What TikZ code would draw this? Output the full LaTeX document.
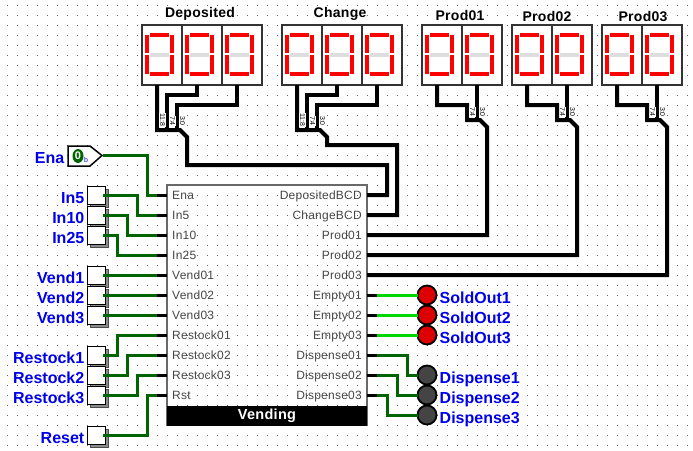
\documentclass[tikz,border=0pt]{standalone}
\usepackage{fontspec}
\setmainfont{Liberation Sans}
\newfontfamily\spaced[LetterSpace=2]{Liberation Sans}
\usetikzlibrary{positioning,calc,shapes.geometric}
\definecolor{wiregreen}{RGB}{0,100,0}
\definecolor{litgreen}{RGB}{0,215,0}
\definecolor{inkblue}{RGB}{0,0,235}
\definecolor{ledred}{RGB}{222,0,0}
\definecolor{leddark}{RGB}{68,68,68}
\definecolor{chipgray}{RGB}{105,105,105}
\definecolor{chiptext}{RGB}{70,70,70}
\tikzset{
  x=1pt, y=-1pt,
  griddot/.style={fill=black!60},
  wire/.style={draw=wiregreen, line width=3pt},
  litwire/.style={draw=litgreen, line width=3pt},
  bus/.style={draw=black, line width=4pt},
  stub/.style={draw=black, line width=3pt},
  chipbox/.style={draw=chipgray, line width=2pt, minimum width=200pt, minimum height=240pt, inner sep=0pt, outer sep=0pt},
  titlebar/.style={fill=black, text=white, minimum width=200pt, minimum height=20pt, inner sep=0pt, outer sep=0pt, font=\spaced\bfseries\fontsize{14.5}{15}\selectfont},
  chiptag/.style={text=chiptext, inner sep=0pt, font=\spaced\fontsize{12}{12}\selectfont},
  bluetag/.style={text=inkblue, inner sep=0pt, font=\bfseries\fontsize{16}{16}\selectfont},
  headtag/.style={text=black, inner sep=0pt, anchor=base, font=\spaced\bfseries\fontsize{14}{14}\selectfont},
  bitstag/.style={fill=white, rotate=-90, inner sep=.6pt, font=\fontsize{7}{7}\selectfont},
  pushbtn/.style={draw=black, line width=1pt, fill=white, minimum size=18pt, inner sep=0pt, outer sep=0pt,
    preaction={draw=black!70, fill=black!45, line width=1pt, transform canvas={xshift=3pt,yshift=-3pt}}},
  lamp/.style={circle, draw=black, line width=1.8pt, minimum size=19pt, inner sep=0pt, outer sep=0pt},
  digit/.pic={
    \node[draw=black!80, line width=2pt, fill=white, minimum width=40pt, minimum height=60pt, inner sep=0pt, outer sep=0pt] (-box) at (20,30) {};
    \coordinate (-pin) at (15,60);
    \fill[red] (8,8) rectangle (27,12);
    \fill[red] (8,47) rectangle (27,51);
    \fill[black!13] (8,28) rectangle (27,32);
    \fill[red] (3,10) rectangle (7,28);
    \fill[red] (3,30) rectangle (7,49);
    \fill[red] (28,10) rectangle (32,28);
    \fill[red] (28,30) rectangle (32,49);
  }
}
\begin{document}
\begin{tikzpicture}
    \useasboundingbox (0,0) rectangle (693,450);
    \fill[white] (0,0) rectangle (693,450);
    \foreach \x in {7,17,...,687}
      \foreach \y in {5,15,...,445}
        \fill[griddot] (\x,\y) rectangle +(1,1);

    \pic (dep1) at (142,25) {digit};
    \pic (dep2) at (182,25) {digit};
    \pic (dep3) at (222,25) {digit};
    \pic (chg1) at (282,25) {digit};
    \pic (chg2) at (322,25) {digit};
    \pic (chg3) at (362,25) {digit};
    \pic (pa1) at (422,25) {digit};
    \pic (pa2) at (462,25) {digit};
    \pic (pb1) at (512,25) {digit};
    \pic (pb2) at (552,25) {digit};
    \pic (pc1) at (602,25) {digit};
    \pic (pc2) at (642,25) {digit};

    \node[headtag] (hDep) at (200,17.5) {Deposited};
    \node[headtag] (hChg) at (340,17.5) {Change};
    \node[headtag] (hPa) at (460,20) {Prod01};
    \node[headtag] (hPb) at (547,21) {Prod02};
    \node[headtag] (hPc) at (643,21) {Prod03};

    \node[chipbox] (chip) at (267,305) {};
    \node[titlebar, anchor=south, yshift=-.5pt] (title) at (chip.south) {\raisebox{-1pt}{Vending}};

    \foreach \nm/\txt/\y in {Ena/Ena/195, In5/In5/215, In10/In10/235, In25/In25/255,
        Vend1/Vend01/275, Vend2/Vend02/295, Vend3/Vend03/315,
        Res1/Restock01/335, Res2/Restock02/355, Res3/Restock03/375, Rst/Rst/395} {
      \coordinate (p\nm) at (157,\y);
      \draw[stub] (p\nm) -- (167,\y);
      \node[chiptag, anchor=base west] (t\nm) at (172,\y+4) {\txt};
    }
    \foreach \nm/\txt/\y in {Dep/DepositedBCD/195, Chg/ChangeBCD/215, Pa/Prod01/235, Pb/Prod02/255, Pc/Prod03/275} {
      \coordinate (o\nm) at (367,\y);
      \node[chiptag, anchor=base east] (t\nm) at (362,\y+4) {\txt};
    }
    \foreach \nm/\txt/\y in {Em1/Empty01/295, Em2/Empty02/315, Em3/Empty03/335,
        Dis1/Dispense01/355, Dis2/Dispense02/375, Dis3/Dispense03/395} {
      \coordinate (o\nm) at (377,\y);
      \draw[stub] (o\nm) -- (367,\y);
      \node[chiptag, anchor=base east] (t\nm) at (362,\y+4) {\txt};
    }

    \foreach \nm/\txt/\y in {In5/In5/195, In10/In10/215, In25/In25/235, Vend1/Vend1/275, Vend2/Vend2/295, Vend3/Vend3/315,
        Res1/Restock1/355, Res2/Restock2/375, Res3/Restock3/395, Rst/Reset/435} {
      \node[pushbtn] (b\nm) at (96,\y) {};
      \node[bluetag, anchor=base east] (l\nm) at (84.5,\y+8) {\txt};
    }

    \draw[black, line width=1.5pt, fill=white] (68,146) -- (90,146) -- (102,155.5) -- (90,166) -- (68,166) -- cycle;
    \node[ellipse, fill=wiregreen, text=white, minimum width=11pt, minimum height=14pt, inner sep=0pt, font=\bfseries\fontsize{11}{11}\selectfont] (enaVal) at (78,156) {0};
    \node[text=inkblue, inner sep=0pt, font=\fontsize{7}{7}\selectfont] (enaBase) at (86,160) {b};
    \coordinate (bEna) at (103,155);
    \node[bluetag, anchor=base east] (lEna) at (64.5,163) {Ena};

    \draw[wire] (bEna) -- (147,155) |- (pEna);
    \draw[wire, shorten <=-2pt] (bIn5.east) -- (137,195) |- (pIn5);
    \draw[wire, shorten <=-2pt] (bIn10.east) -- (127,215) |- (pIn10);
    \draw[wire, shorten <=-2pt] (bIn25.east) -- (117,235) |- (pIn25);
    \draw[wire, shorten <=-2pt] (bVend1.east) -- (pVend1);
    \draw[wire, shorten <=-2pt] (bVend2.east) -- (pVend2);
    \draw[wire, shorten <=-2pt] (bVend3.east) -- (pVend3);
    \draw[wire, shorten <=-2pt] (bRes1.east) -- (117,355) |- (pRes1);
    \draw[wire, shorten <=-2pt] (bRes2.east) -- (127,375) |- (pRes2);
    \draw[wire, shorten <=-2pt] (bRes3.east) -- (137,395) |- (pRes3);
    \draw[wire, shorten <=-2pt] (bRst.east) -- (147,435) |- (pRst);

    \draw[bus] (dep1-pin) -- (157,130) -- (180,130) -- (187,137) -- (187,165) -- (387,165) |- (oDep);
    \draw[bus] (dep2-pin) -- (197,95) -- (167,95) -- (167,130);
    \draw[bus] (dep3-pin) -- (237,105) -- (177,105) -- (177,130);
    \draw[bus] (chg1-pin) -- (297,130) -- (320,130) -- (327,137) -- (327,145) -- (397,145) |- (oChg);
    \draw[bus] (chg2-pin) -- (337,95) -- (307,95) -- (307,130);
    \draw[bus] (chg3-pin) -- (377,105) -- (317,105) -- (317,130);
    \draw[bus] (pa1-pin) -- (437,105) -- (467,105) -- (467,120) -- (480,120) -- (487,127) |- (oPa);
    \draw[bus] (pa2-pin) -- (477,120);
    \draw[bus] (pb1-pin) -- (527,105) -- (557,105) -- (557,120) -- (570,120) -- (577,127) |- (oPb);
    \draw[bus] (pb2-pin) -- (567,120);
    \draw[bus] (pc1-pin) -- (617,105) -- (647,105) -- (647,120) -- (660,120) -- (667,127) |- (oPc);
    \draw[bus] (pc2-pin) -- (657,120);

    \node[bitstag] (bitsA) at (162.5,120) {11:8};
    \node[bitstag] (bitsB) at (172.5,121) {7:4};
    \node[bitstag] (bitsC) at (182.5,121) {3:0};
    \node[bitstag] (bitsD) at (302.5,120) {11:8};
    \node[bitstag] (bitsE) at (312.5,121) {7:4};
    \node[bitstag] (bitsF) at (322.5,121) {3:0};
    \node[bitstag] (bitsG) at (472.5,112) {7:4};
    \node[bitstag] (bitsH) at (482.5,112) {3:0};
    \node[bitstag] (bitsI) at (562.5,112) {7:4};
    \node[bitstag] (bitsJ) at (572.5,112) {3:0};
    \node[bitstag] (bitsK) at (652.5,112) {7:4};
    \node[bitstag] (bitsL) at (662.5,112) {3:0};

    \foreach \nm/\txt/\y in {Em1/SoldOut1/295, Em2/SoldOut2/315, Em3/SoldOut3/335} {
      \node[lamp, fill=ledred] (led\nm) at (427,\y) {};
      \draw[litwire] (o\nm) -- (led\nm);
      \node[bluetag, anchor=base west] (l\nm) at (439.5,\y+8) {\txt};
    }
    \foreach \nm/\txt/\y/\xm in {Dis1/Dispense1/375/407, Dis2/Dispense2/395/397, Dis3/Dispense3/415/387} {
      \node[lamp, fill=leddark] (led\nm) at (427,\y) {};
      \draw[wire] (o\nm) -| (\xm,\y) -- (led\nm);
      \node[bluetag, anchor=base west] (l\nm) at (439.5,\y+8) {\txt};
    }
\end{tikzpicture}
\end{document}
